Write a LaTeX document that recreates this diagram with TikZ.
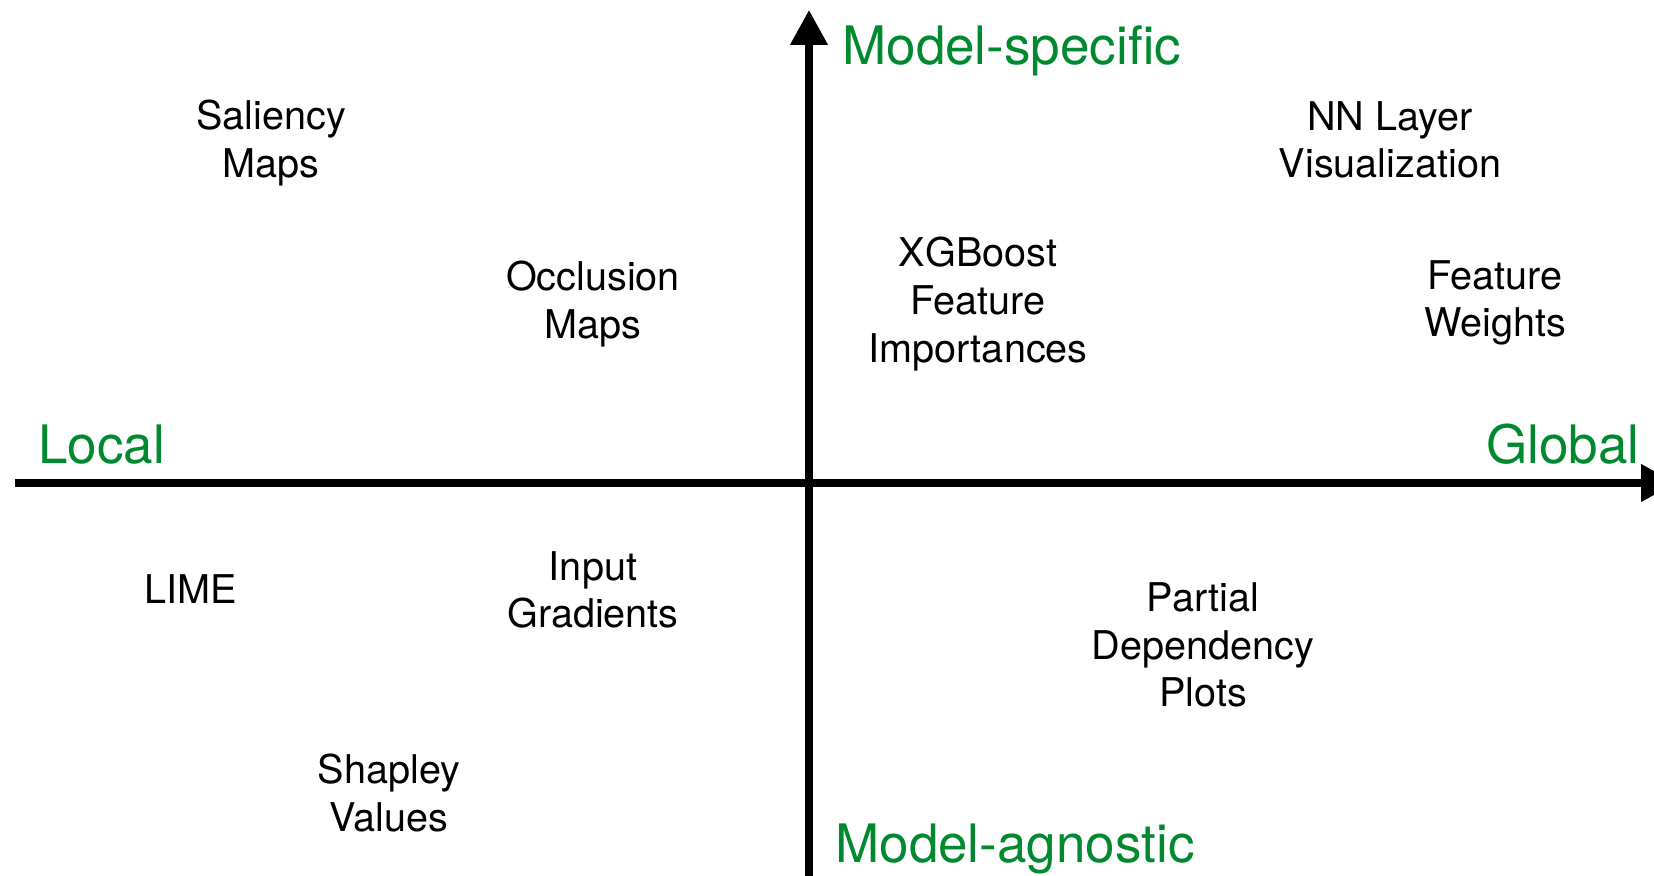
\documentclass[tikz,border=0pt]{standalone}
\usepackage{fontspec}
\setmainfont{TeX Gyre Heros}
\usetikzlibrary{arrows.meta}
\definecolor{axisgreen}{RGB}{0,137,46}

\begin{document}
\begin{tikzpicture}[x=0.5pt, y=-0.5pt,
    method/.style={align=center, inner sep=0pt, font=\fontsize{19.8}{23.8}\selectfont},
    axislabel/.style={anchor=base west, inner sep=0pt, text=axisgreen, font=\fontsize{26.5}{32}\selectfont},
    axis/.style={line width=3.75pt, -{Triangle[width=18pt, length=17.5pt]}}]
    \useasboundingbox (0,0) rectangle (1654,876);
    % axes
    \coordinate (left) at (15,483);
    \coordinate (right) at (1676,483);
    \coordinate (bottom) at (809,900);
    \coordinate (top) at (809,10);
    \draw[axis] (left) -- (right);
    \draw[axis] (bottom) -- (top);
    % axis labels
    \node[axislabel] (specific) at (842,65) {Model-specific};
    \node[axislabel] (agnostic) at (835,862) {Model-agnostic};
    \node[axislabel] (local) at (38,464) {Local};
    \node[axislabel] (global) at (1486,464) {Global};
    % methods
    \node[method] (saliency) at (271,143) {Saliency\\Maps};
    \node[method] (occlusion) at (593,304) {Occlusion\\Maps};
    \node[method] (xgboost) at (978,304) {XGBoost\\Feature\\Importances};
    \node[method] (nnlayer) at (1390,140) {NN Layer\\Visualization};
    \node[method] (weights) at (1495,303) {Feature\\Weights};
    \node[method] (lime) at (191,589) {LIME};
    \node[method] (gradients) at (593,590) {Input\\Gradients};
    \node[method] (pdp) at (1203,645) {Partial\\Dependency\\Plots};
    \node[method] (shapley) at (389,793) {Shapley\\Values};
\end{tikzpicture}
\end{document}
